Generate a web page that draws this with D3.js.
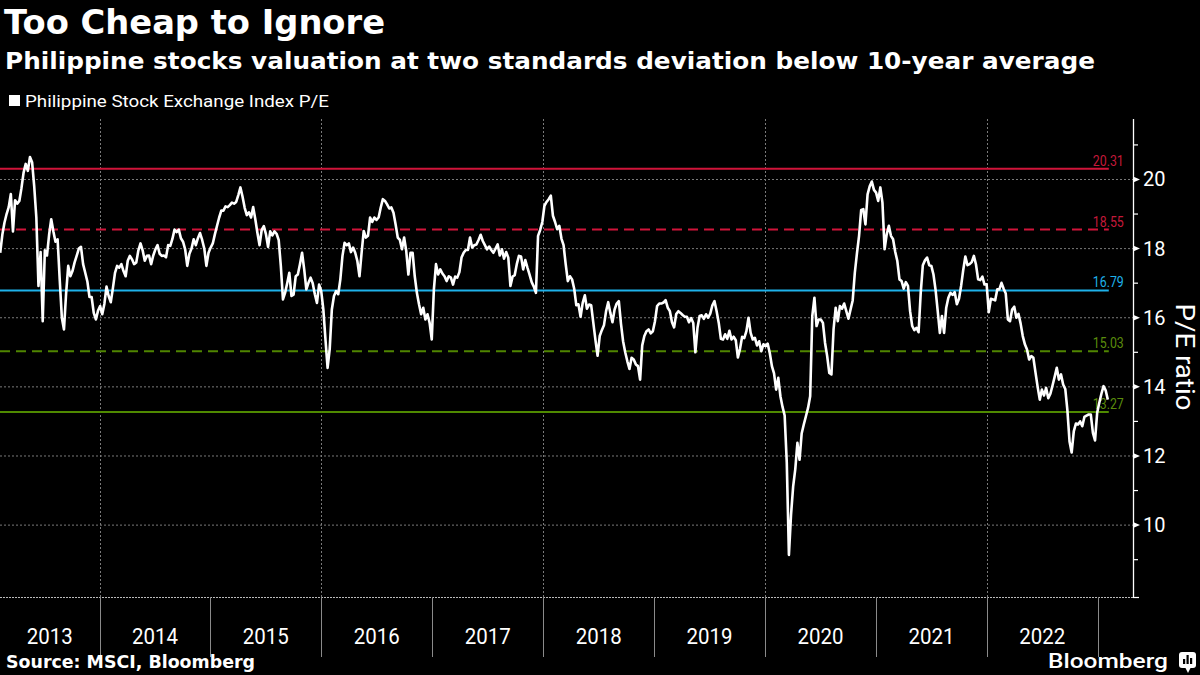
<!DOCTYPE html>
<html><head><meta charset="utf-8">
<script src="https://cdn.jsdelivr.net/npm/d3@7"></script>
<style>html,body{margin:0;padding:0;background:#000;} svg{display:block;}</style>
</head><body>
<svg id="chart" width="1200" height="675"></svg>
<script>
// ---------------- DATA ----------------
const titleText = "Too Cheap to Ignore";
const subtitleText = "Philippine stocks valuation at two standards deviation below 10-year average";
const legendLabel = "Philippine Stock Exchange Index P/E";
const sourceText = "Source: MSCI, Bloomberg";
const brandText = "Bloomberg";
const yAxisTitle = "P/E ratio";

// weekly observations starting from this date
const seriesStart = "2013-02-08";
const peValues = [
17.88,18.4,18.75,19.0,19.2,19.58,18.5,19.4,19.3,19.38,19.75,20.2,20.45,20.25,20.65,20.5,19.8,18.9,16.92,17.9,
15.9,17.95,17.8,18.4,18.85,18.5,18.2,18.27,17.1,16.0,15.66,16.7,17.5,17.2,17.35,17.6,17.8,18.0,18.05,17.55,
17.3,17.05,16.6,16.6,16.14,15.95,16.2,16.34,16.1,16.4,16.9,16.63,16.45,16.85,17.3,17.5,17.45,17.55,17.35,17.2,
17.65,17.79,17.69,17.55,17.6,17.95,18.15,17.95,17.65,17.79,17.8,17.55,17.8,17.98,18.1,17.85,17.79,17.8,17.75,18.1,
18.08,18.28,18.55,18.48,18.55,18.3,18.2,17.98,17.5,17.85,18.0,18.27,18.1,18.3,18.45,18.25,18.0,17.5,17.88,18.03,
18.15,18.42,18.66,18.9,19.1,19.1,19.22,19.2,19.26,19.33,19.3,19.35,19.55,19.77,19.5,19.18,18.97,19.05,18.9,19.2,
18.85,18.45,18.1,18.54,18.65,18.42,18.05,18.5,18.38,18.5,18.43,18.25,17.5,16.53,16.72,17.0,17.3,16.63,16.67,17.2,
17.25,17.55,17.88,17.4,16.82,17.01,17.16,17.0,16.68,16.43,16.96,16.77,16.24,15.37,14.55,15.1,16.24,16.63,16.77,16.68,
17.11,17.79,18.17,18.1,18.15,17.9,18.03,17.88,17.64,17.2,17.88,18.51,18.32,18.37,18.9,18.77,18.9,18.83,18.9,19.19,
19.43,19.38,19.28,19.16,19.19,19.04,18.7,18.32,18.25,17.98,18.32,17.93,17.25,17.88,17.88,17.2,16.72,16.39,16.1,16.29,
15.95,16.1,15.85,15.37,16.82,17.55,17.25,17.4,17.28,17.2,17.06,17.2,17.16,16.96,17.19,17.16,17.32,17.74,17.88,17.96,
17.96,18.32,18.03,18.1,18.12,18.25,18.4,18.22,18.1,17.98,18.06,17.96,17.88,18.0,18.12,17.8,17.98,17.71,17.9,17.74,
16.92,17.19,17.23,17.55,17.79,17.77,17.4,17.67,17.45,17.25,17.03,16.9,16.72,18.37,18.54,18.77,19.24,19.35,19.43,19.53,
18.95,18.77,18.56,18.66,18.29,18.1,17.55,17.06,17.2,17.11,16.84,16.36,16.39,16.03,16.43,16.65,16.26,16.38,16.36,15.85,
15.35,14.9,15.47,15.64,15.78,16.19,16.45,16.14,15.87,16.24,16.41,16.48,15.83,15.32,15.0,14.74,14.52,14.84,14.79,14.65,
14.6,14.21,15.2,15.47,15.61,15.66,15.55,15.61,15.9,16.34,16.41,16.41,16.44,16.51,16.29,16.19,15.87,15.72,16.11,16.19,
16.14,16.08,16.03,16.03,15.87,15.99,15.85,15.0,15.71,16.05,16.07,15.97,16.1,16.0,16.12,16.36,16.48,16.19,15.85,15.39,
15.37,15.52,15.39,15.62,15.37,15.45,15.35,14.85,15.1,15.45,15.41,15.61,16.0,15.56,15.37,15.42,15.2,15.32,15.03,15.23,
15.18,15.25,14.98,14.6,14.39,13.92,14.26,13.73,13.42,13.17,11.8,9.14,10.3,11.12,11.62,12.38,11.89,12.65,12.91,13.15,
13.39,13.73,16.05,16.58,15.76,15.95,15.95,15.85,15.27,14.89,14.4,14.36,15.66,16.29,15.9,16.34,16.26,16.41,16.19,15.97,
16.24,16.5,17.3,17.86,18.37,19.12,19.14,18.7,19.57,19.8,19.94,19.7,19.62,19.38,19.77,19.33,17.98,18.41,18.66,18.37,
18.27,17.91,17.64,17.11,17.06,16.84,17.03,16.92,16.19,15.76,15.64,15.71,15.58,16.72,17.52,17.66,17.74,17.52,17.5,17.25,
16.8,16.19,15.56,16.05,15.56,16.29,16.58,16.72,16.66,16.74,16.39,16.55,16.92,17.38,17.77,17.52,17.55,17.61,17.79,17.54,
17.11,17.09,17.19,16.96,16.97,16.16,16.55,16.53,16.5,16.82,16.82,17.01,16.84,16.7,15.95,15.9,16.24,16.32,16.0,16.11,
15.83,15.47,15.23,15.08,14.79,14.89,14.84,14.41,14.0,13.63,13.92,13.75,13.97,13.67,13.8,14.04,14.29,14.55,14.21,14.36,
14.07,13.94,13.32,12.42,12.1,12.71,12.94,12.91,13.0,12.86,13.13,13.17,13.2,13.2,12.67,12.45,13.25,13.54,13.8,14.02,
13.9,13.63
];

// reference levels (10-yr average and +/- 1 and 2 standard deviations)
const refValues = [20.31, 18.55, 16.79, 15.03, 13.27];
const refLabels = ["20.31", "18.55", "16.79", "15.03", "13.27"];

const yTickValues = [10, 12, 14, 16, 18, 20];
const yMinorTickValues = [9, 11, 13, 15, 17, 19, 21];
const yearLabels = ["2013","2014","2015","2016","2017","2018","2019","2020","2021","2022"];

// ---------------- STYLE ----------------
const refStyles = [
  {stroke: "#d0143a", text: "#c4193a", dash: null},
  {stroke: "#d0143a", text: "#c4193a", dash: "10,6"},
  {stroke: "#1eb1ea", text: "#1eb1ea", dash: null},
  {stroke: "#4f8500", text: "#5a8c0c", dash: "10,6"},
  {stroke: "#4f8a00", text: "#5a8c0c", dash: null}
];

const svg = d3.select("#chart");
svg.append("rect").attr("width", 1200).attr("height", 675).attr("fill", "#000");

const plotLeft = 0, plotRight = 1133, plotTop = 119, plotBottom = 597;

const x = d3.scaleTime()
  .domain([new Date(2013, 1, 7, 8), new Date(2023, 3, 27)])
  .range([plotLeft, plotRight]);
const y = d3.scaleLinear()
  .domain([7.92, 21.75])
  .range([plotBottom, plotTop]);

const startDate = d3.timeParse("%Y-%m-%d")(seriesStart);
const series = peValues.map((v, i) => ({date: d3.timeWeek.offset(startDate, i), value: v}));
const lastX = x(series[series.length - 1].date);

function fit(sel, w) {
  sel.attr("textLength", w).attr("lengthAdjust", "spacingAndGlyphs");
  return sel;
}

// ---- Titles ----
fit(svg.append("text").attr("x", 4).attr("y", 34)
  .attr("font-family", "DejaVu Sans").attr("font-weight", "bold").attr("font-size", 33)
  .attr("fill", "#fff").text(titleText), 381);
fit(svg.append("text").attr("x", 5).attr("y", 69)
  .attr("font-family", "DejaVu Sans").attr("font-weight", "bold").attr("font-size", 23)
  .attr("fill", "#fff").text(subtitleText), 1090);

// ---- Legend ----
svg.append("rect").attr("x", 9).attr("y", 95).attr("width", 11).attr("height", 11).attr("fill", "#fff");
fit(svg.append("text").attr("x", 25).attr("y", 107)
  .attr("font-family", "Roboto").attr("font-size", 17).attr("fill", "#fff").text(legendLabel), 304);

// ---- Grid ----
const grid = svg.append("g");
grid.selectAll("line.h").data(yTickValues).join("line")
  .attr("x1", plotLeft).attr("x2", plotRight)
  .attr("y1", d => y(d)).attr("y2", d => y(d))
  .attr("stroke", "#7a7a7a").attr("stroke-width", 1).attr("stroke-dasharray", "2,2");
grid.selectAll("line.v").data(x.ticks(d3.timeYear.every(2))).join("line")
  .attr("x1", d => Math.round(x(d)) + 0.5).attr("x2", d => Math.round(x(d)) + 0.5)
  .attr("y1", plotTop).attr("y2", plotBottom)
  .attr("stroke", "#7a7a7a").attr("stroke-width", 1).attr("stroke-dasharray", "2,2");

// ---- Bottom axis ----
svg.append("line").attr("x1", plotLeft).attr("x2", plotRight)
  .attr("y1", plotBottom + 0.5).attr("y2", plotBottom + 0.5)
  .attr("stroke", "#bbb").attr("stroke-width", 1).attr("stroke-dasharray", "2,1");
const yearStarts = d3.timeYear.range(d3.timeYear.ceil(x.domain()[0]), x.domain()[1]);
svg.append("g").selectAll("line").data(yearStarts).join("line")
  .attr("x1", d => Math.round(x(d)) + 0.5).attr("x2", d => Math.round(x(d)) + 0.5)
  .attr("y1", plotBottom).attr("y2", 657)
  .attr("stroke", "#8a8a8a").attr("stroke-width", 1);
svg.append("g").selectAll("text").data(yearLabels).join("text")
  .attr("x", d => {
    const a = Math.max(x(new Date(+d, 0, 1)), plotLeft);
    const b = x(new Date(+d + 1, 0, 1));
    return (a + b) / 2;
  })
  .attr("y", 644).attr("text-anchor", "middle")
  .attr("font-family", "Roboto").attr("font-size", 22).attr("fill", "#fff")
  .attr("textLength", 46).attr("lengthAdjust", "spacingAndGlyphs")
  .text(d => d);

// ---- Right axis ----
const yAxis = d3.axisRight(y).tickValues(yTickValues).tickSize(0).tickPadding(10).tickFormat(d3.format("d"));
const ya = svg.append("g").attr("transform", `translate(${plotRight},0)`).call(yAxis);
ya.select(".domain").remove();
ya.selectAll("text").attr("font-family", "Roboto").attr("font-size", 20).attr("fill", "#fff");
svg.append("line").attr("x1", plotRight + 0.5).attr("x2", plotRight + 0.5)
  .attr("y1", plotTop).attr("y2", plotBottom + 1).attr("stroke", "#fff").attr("stroke-width", 1.3);
svg.append("g").selectAll("path").data(yTickValues).join("path")
  .attr("d", d => `M${plotRight},${y(d) - 3}L${plotRight + 7},${y(d)}L${plotRight},${y(d) + 3}Z`)
  .attr("fill", "#fff");
svg.append("g").selectAll("line").data(yMinorTickValues).join("line")
  .attr("x1", plotRight).attr("x2", plotRight + 5)
  .attr("y1", d => y(d)).attr("y2", d => y(d))
  .attr("stroke", "#fff").attr("stroke-width", 1.2);
svg.append("line").attr("x1", plotRight).attr("x2", plotRight + 6)
  .attr("y1", plotBottom + 0.5).attr("y2", plotBottom + 0.5).attr("stroke", "#fff").attr("stroke-width", 1.2);
fit(svg.append("text").attr("transform", `translate(1176,357) rotate(90)`)
  .attr("text-anchor", "middle").attr("font-family", "Roboto").attr("font-size", 26)
  .attr("fill", "#fff").text(yAxisTitle), 107);

// ---- Reference lines ----
const refG = svg.append("g");
refValues.forEach((v, i) => {
  const st = refStyles[i];
  refG.append("line").attr("x1", plotLeft).attr("x2", lastX + 1)
    .attr("y1", y(v)).attr("y2", y(v))
    .attr("stroke", st.stroke).attr("stroke-width", 2)
    .attr("stroke-dasharray", st.dash);
  refG.append("text").attr("x", lastX + 16).attr("y", y(v) - 3)
    .attr("text-anchor", "end").attr("font-family", "Roboto").attr("font-size", 14.5)
    .attr("fill", st.text).attr("textLength", 31).attr("lengthAdjust", "spacingAndGlyphs")
    .text(refLabels[i]);
});

// ---- Series ----
svg.append("clipPath").attr("id", "clip").append("rect")
  .attr("x", plotLeft).attr("y", plotTop).attr("width", plotRight - plotLeft).attr("height", plotBottom - plotTop);
const line = d3.line().x(d => x(d.date)).y(d => y(d.value));
svg.append("path").datum(series).attr("clip-path", "url(#clip)")
  .attr("d", line).attr("fill", "none").attr("stroke", "#fff")
  .attr("stroke-width", 2.6).attr("stroke-linejoin", "round");

// ---- Footer ----
fit(svg.append("text").attr("x", 6).attr("y", 668)
  .attr("font-family", "DejaVu Sans").attr("font-weight", "bold").attr("font-size", 17)
  .attr("fill", "#fff").text(sourceText), 249);
fit(svg.append("text").attr("x", 1048).attr("y", 668)
  .attr("font-family", "Roboto").attr("font-weight", 500).attr("font-size", 21)
  .attr("fill", "#fff").text(brandText), 120);
const logo = svg.append("g");
logo.append("rect").attr("x", 1179).attr("y", 652).attr("width", 17).attr("height", 16).attr("rx", 3).attr("fill", "#fff");
logo.append("path").attr("d", "M1185,667L1188,673L1191,667Z").attr("fill", "#fff");
[[1183, 5], [1186.5, 9], [1190, 6]].forEach(([bx, bh]) => {
  logo.append("rect").attr("x", bx).attr("y", 664 - bh).attr("width", 2.2).attr("height", bh).attr("fill", "#000");
});
</script>
</body></html>
